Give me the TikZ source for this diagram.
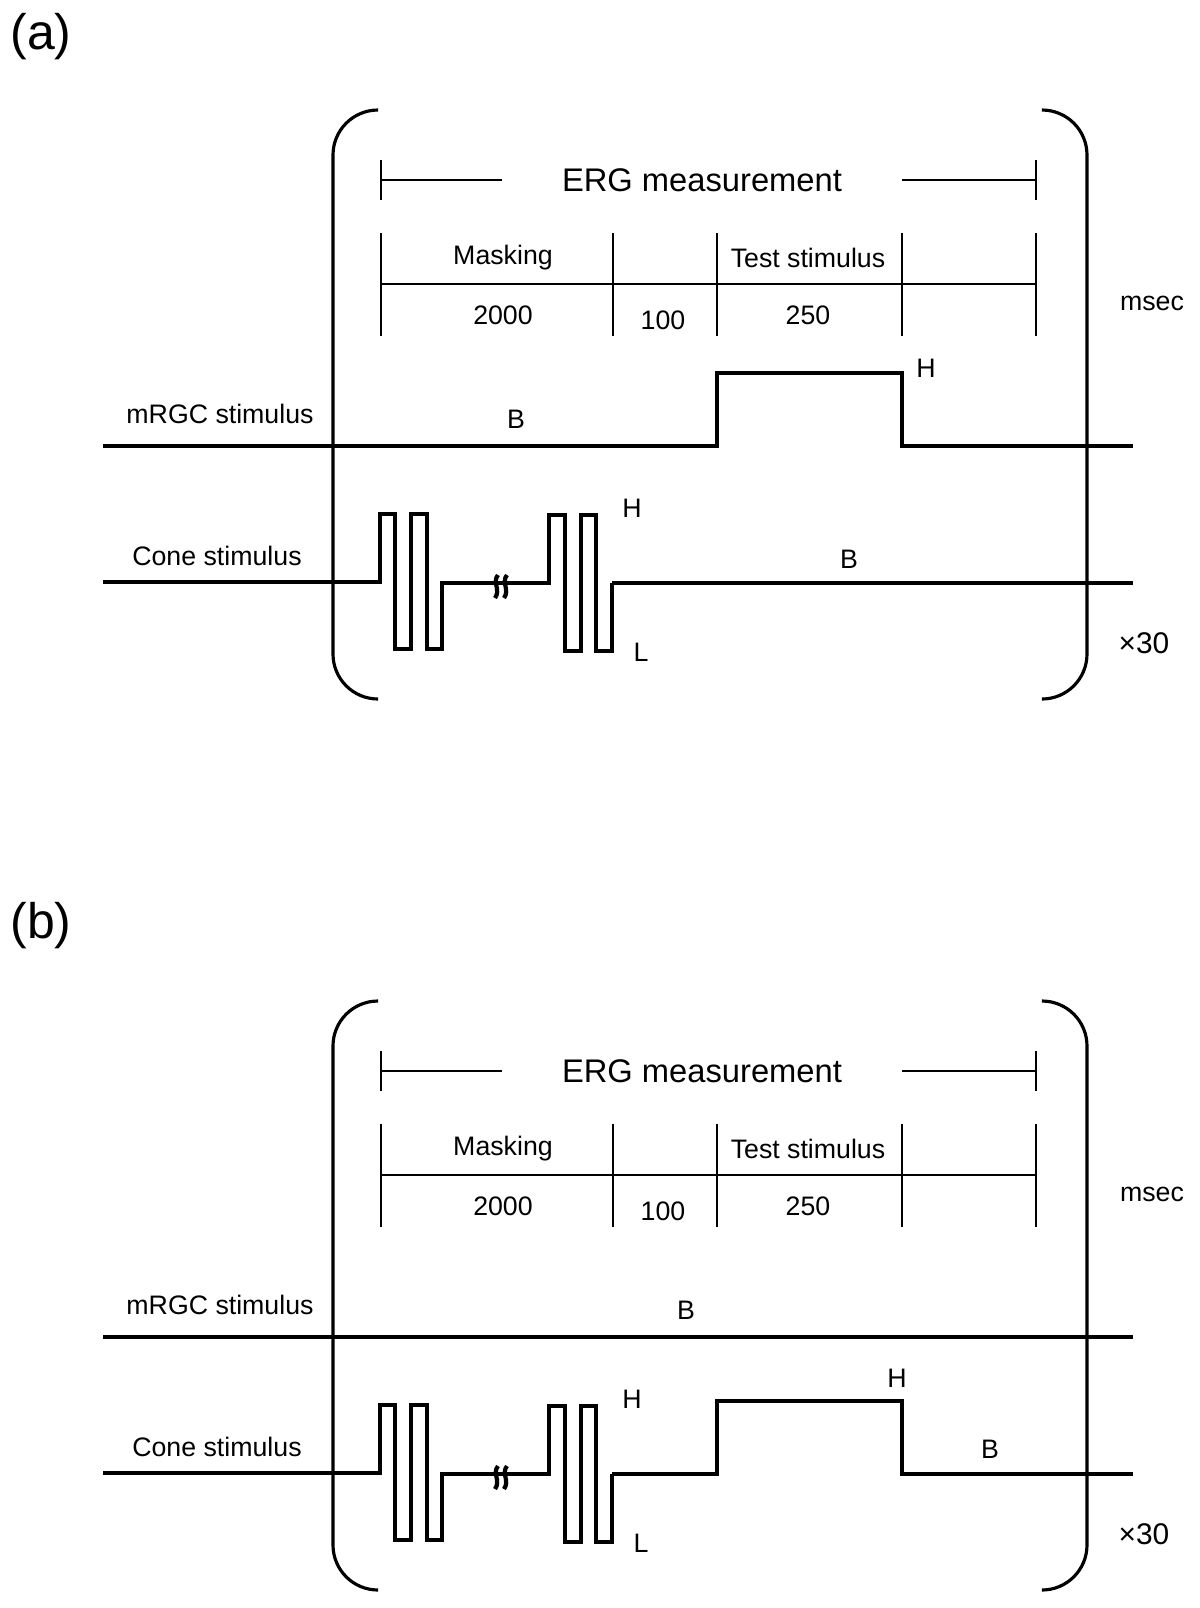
\documentclass[tikz,border=0pt]{standalone}
\usepackage{fontspec}
\setmainfont{Liberation Sans}
\tikzset{
  txt/.style={font=\fontsize{7.6}{9}\selectfont, inner sep=0pt},
  ergtxt/.style={font=\fontsize{9.3}{11}\selectfont, inner sep=0pt},
  paneltxt/.style={font=\fontsize{14.2}{17}\selectfont, inner sep=0pt},
  repeattxt/.style={font=\fontsize{8.5}{10}\selectfont, inner sep=0pt},
  wave/.style={line width=0.9pt},
  gridline/.style={line width=0.6pt},
  brace/.style={line width=0.9pt, rounded corners=0.45cm},
  breakmark/.style={line width=1.2pt},
}
% frame shared by both panels: brackets, ERG row, timing table, row labels
\newcommand\ergframe[1]{%
  \draw[brace] (378,110) -- (333,110) -- (333,699) -- (378,699);
  \draw[brace] (1042,110) -- (1087,110) -- (1087,699) -- (1042,699);
  \node[ergtxt] (erg#1) at (702,180) {ERG measurement};
  \draw[gridline] (381,160) -- (381,200);
  \draw[gridline] (381,180) -- (502,180);
  \draw[gridline] (902,180) -- (1036,180);
  \draw[gridline] (1036,160) -- (1036,200);
  \foreach \x in {381,613,717,902,1036}
    \draw[gridline] (\x,233) -- (\x,336);
  \draw[gridline] (381,284) -- (1036,284);
  \node[txt] (mask#1) at (503,258) {Masking};
  \node[txt] (test#1) at (808,258) {Test stimulus};
  \node[txt] (tmask#1) at (503,315) {2000};
  \node[txt] (tgap#1) at (663,320) {100};
  \node[txt] (ttest#1) at (808,315) {250};
  \node[txt] (msec#1) at (1152,303) {msec};
  \node[repeattxt] (rep#1) at (1144,643) {×30};
  \node[txt] (mrgc#1) at (220,414) {mRGC stimulus};
  \node[txt] (cone#1) at (217,556) {Cone stimulus};
  % masking flicker, two pulse pairs with a break between them
  \draw[wave] (103,582) -- (380,582) -- (380,514) -- (395,514) -- (395,649)
    -- (411,649) -- (411,514) -- (427,514) -- (427,649) -- (442,649)
    -- (442,583) -- (549,583) -- (549,515) -- (565,515) -- (565,651)
    -- (581,651) -- (581,515) -- (596,515) -- (596,651) -- (612,651)
    -- (612,583);
  \draw[breakmark] (498,575) .. controls (492,582) and (501,590) .. (495,598);
  \draw[breakmark] (507,575) .. controls (501,582) and (510,590) .. (504,598);
  \node[txt] (hi#1) at (632,508) {H};
  \node[txt] (lo#1) at (641,652) {L};
}

\begin{document}
\begin{tikzpicture}[x=0.01cm, y=-0.01cm]
\useasboundingbox (0,0) rectangle (1200,1608);

% (a) test stimulus on the mRGC channel
\node[paneltxt] (pa) at (41,37) {(a)};
\ergframe{a}
\draw[wave] (103,446) -- (717,446) -- (717,373) -- (902,373) -- (902,446) -- (1133,446);
\draw[wave] (612,583) -- (1133,583);
\node[txt] (mbA) at (516,419) {B};
\node[txt] (mhA) at (926,368) {H};
\node[txt] (cbA) at (849,559) {B};

% (b) test stimulus on the cone channel
\node[paneltxt] (pb) at (41,926) {(b)};
\begin{scope}[shift={(0,891)}]
\ergframe{b}
\draw[wave] (103,446) -- (1133,446);
\draw[wave] (612,583) -- (717,583) -- (717,510) -- (902,510) -- (902,583) -- (1133,583);
\node[txt] (mbB) at (686,419) {B};
\node[txt] (chB) at (897,487) {H};
\node[txt] (cbB) at (990,558) {B};
\end{scope}
\end{tikzpicture}
\end{document}
